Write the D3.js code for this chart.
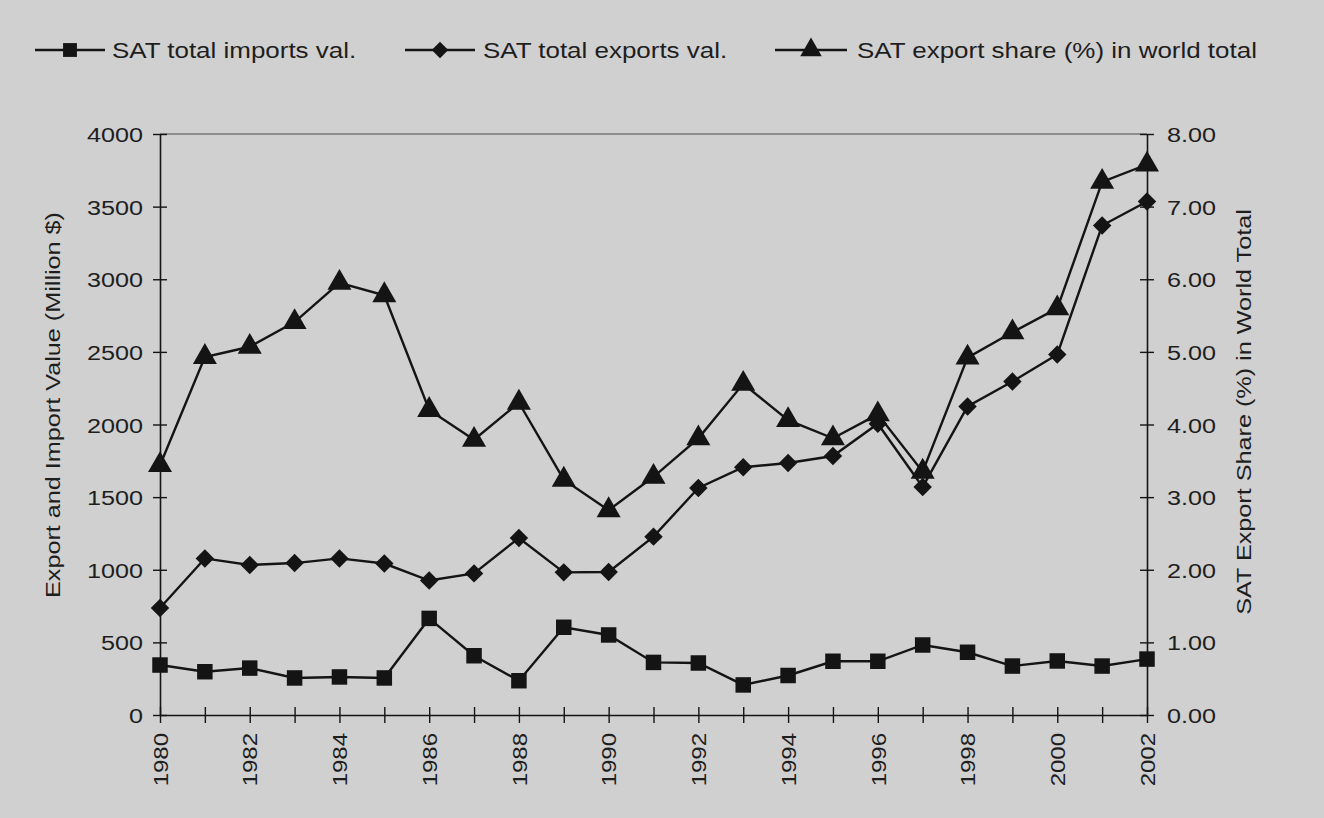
<!DOCTYPE html>
<html><head><meta charset="utf-8">
<script src="https://cdn.jsdelivr.net/npm/d3@7"></script>
<style>
html,body{margin:0;padding:0;background:#d0d0d0;}
svg{display:block;}
text{font-family:"Liberation Sans",Arial,sans-serif;fill:#1e1e1e;}
</style></head>
<body>
<svg id="c" width="1324" height="818"></svg>
<script>
const years = d3.range(1980, 2003);
const tickYears = [1980,1982,1984,1986,1988,1990,1992,1994,1996,1998,2000,2002];
const imports = [344,298,323,255,262,255,665,408,236,604,551,362,358,207,272,370,370,482,432,337,372,337,385];
const exports = [737,1078,1033,1046,1078,1043,926,975,1219,982,985,1228,1563,1706,1735,1783,2005,1570,2124,2296,2482,3370,3535];
const share = [3.44,4.93,5.07,5.41,5.95,5.78,4.20,3.79,4.30,3.24,2.82,3.28,3.81,4.56,4.06,3.81,4.14,3.35,4.92,5.27,5.60,7.34,7.58];
const leftTicks = [0,500,1000,1500,2000,2500,3000,3500,4000];
const rightTicks = [0,1,2,3,4,5,6,7,8];
const legendLabels = ["SAT total imports val.","SAT total exports val.","SAT export share (%) in world total"];
const leftTitle = "Export and Import Value (Million $)";
const rightTitle = "SAT Export Share (%) in World Total";

const svg = d3.select("#c");
const L = 160, R = 1147, T = 134, B = 715;
const x = d3.scaleLinear().domain([1980, 2002]).range([L, R]);
const yL = d3.scaleLinear().domain([0, 4000]).range([B, T]);
const yR = d3.scaleLinear().domain([0, 8]).range([B, T]);
const ink = "#141414";
const SX = 1.2;

// frame top
svg.append("line").attr("x1", L).attr("x2", R).attr("y1", T).attr("y2", T)
  .attr("stroke", "#4a4a4a").attr("stroke-width", 1.2);

function styleAxis(g){
  g.select(".domain").attr("stroke", ink).attr("stroke-width", 1.6);
  g.selectAll(".tick line").attr("stroke", ink).attr("stroke-width", 1.4);
  g.selectAll(".tick text").style("font-size", "21px").attr("fill", "#1e1e1e");
}

// left axis
const gl = svg.append("g").attr("transform", `translate(${L},0)`)
  .call(d3.axisLeft(yL).tickValues(leftTicks).tickFormat(d3.format("d")).tickSize(7).tickSizeOuter(0));
styleAxis(gl);
gl.selectAll(".tick").append("line").attr("x2", 7).attr("stroke", ink).attr("stroke-width", 1.4);
gl.selectAll(".tick text").attr("x", 0).attr("dy", "0.36em")
  .attr("transform", `translate(-17,0) scale(${SX},1)`);

// right axis
const gr = svg.append("g").attr("transform", `translate(${R},0)`)
  .call(d3.axisRight(yR).tickValues(rightTicks).tickFormat(d3.format(".2f")).tickSize(7).tickSizeOuter(0));
styleAxis(gr);
gr.selectAll(".tick").append("line").attr("x2", -7).attr("stroke", ink).attr("stroke-width", 1.4);
gr.selectAll(".tick text").attr("x", 0).attr("dy", "0.36em")
  .attr("transform", `translate(20,0) scale(${SX},1)`);

// bottom axis
const gb = svg.append("g").attr("transform", `translate(0,${B})`)
  .call(d3.axisBottom(x).tickValues(years).tickFormat(d => tickYears.includes(d) ? d : "").tickSize(8).tickSizeOuter(0));
styleAxis(gb);
gb.selectAll(".tick").append("line").attr("y2", -8).attr("stroke", ink).attr("stroke-width", 1.4);
gb.selectAll(".tick text")
  .style("font-size", "20px")
  .attr("text-anchor", "end")
  .attr("x", 0).attr("y", 0).attr("dy", "0.36em")
  .attr("transform", `translate(0,18) rotate(-90) scale(${SX},1)`);

// axis titles
svg.append("text").attr("transform", `translate(60,405) rotate(-90) scale(${SX},1)`)
  .attr("text-anchor", "middle").style("font-size", "21px").text(leftTitle);
svg.append("text").attr("transform", `translate(1251,412) rotate(-90) scale(${SX},1)`)
  .attr("text-anchor", "middle").style("font-size", "21px").text(rightTitle);

// series
const series = [
  {vals: imports, y: yL, sym: d3.symbolSquare, size: 240, rot: 0},
  {vals: exports, y: yL, sym: d3.symbolSquare, size: 170, rot: 45},
  {vals: share,   y: yR, sym: d3.symbolTriangle, size: 250, rot: 0}
];
series.forEach(s => {
  const line = d3.line().x((d, i) => x(years[i])).y(d => s.y(d));
  svg.append("path").datum(s.vals).attr("d", line)
    .attr("fill", "none").attr("stroke", ink).attr("stroke-width", 2.4);
  svg.append("g").selectAll("path").data(s.vals).join("path")
    .attr("d", d3.symbol(s.sym, s.size))
    .attr("transform", (d, i) => `translate(${x(years[i])},${s.y(d)}) rotate(${s.rot})`)
    .attr("fill", ink);
});

// legend
const legX = [35, 405, 775];
const legW = [70, 70, 72];
const legT = [77, 78, 82];
legendLabels.forEach((lab, i) => {
  const g = svg.append("g").attr("transform", `translate(${legX[i]},50)`);
  g.append("line").attr("x1", 0).attr("x2", legW[i]).attr("stroke", ink).attr("stroke-width", 2.4);
  const s = series[i];
  g.append("path").attr("d", d3.symbol(s.sym, s.size * 0.8))
    .attr("transform", `translate(${legW[i] / 2},0) rotate(${s.rot})`).attr("fill", ink);
  g.append("text").attr("x", 0).attr("dy", "0.36em").style("font-size", "22px")
    .attr("transform", `translate(${legT[i]},0) scale(1.18,1)`).text(lab);
});
</script>
</body></html>
